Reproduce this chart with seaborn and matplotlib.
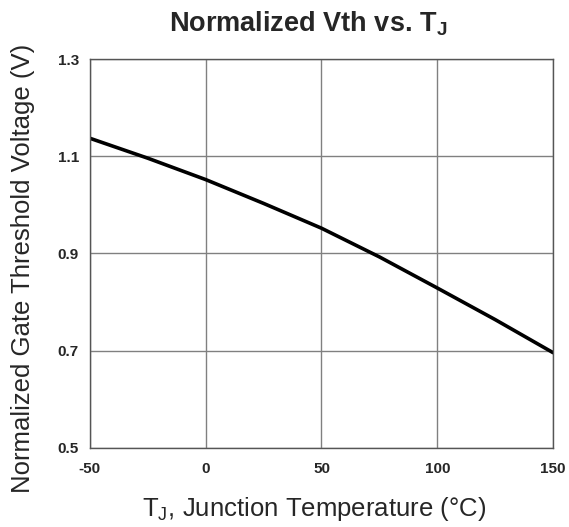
import numpy as np
import matplotlib.pyplot as plt
import seaborn as sns
import pandas as pd

# values
temps = [-50, -25, 0, 25, 50, 75, 100, 125, 150]
vth_norm = [1.137, 1.096, 1.052, 1.003, 0.952, 0.893, 0.829, 0.764, 0.696]
x_ticks = [-50, 0, 50, 100, 150]
y_ticks = [0.5, 0.7, 0.9, 1.1, 1.3]

sns.set_style("white")
plt.rcParams['font.family'] = ['Liberation Sans', 'DejaVu Sans']
plt.rcParams['mathtext.fontset'] = 'custom'
plt.rcParams['mathtext.rm'] = 'Liberation Sans'
plt.rcParams['mathtext.bf'] = 'Liberation Sans:bold'

df = pd.DataFrame({'T': temps, 'V': vth_norm})

fig = plt.figure(figsize=(5.69, 5.27), dpi=100)
ax = fig.add_axes([0.158, 0.150, 0.814, 0.738])

sns.lineplot(data=df, x='T', y='V', color='black', linewidth=2.6, ax=ax)

ax.set_xlim(-50, 150)
ax.set_ylim(0.5, 1.3)
ax.set_xticks(x_ticks)
ax.set_yticks(y_ticks)
ax.set_xticklabels([str(t) for t in x_ticks], fontsize=11, fontweight='bold')
ax.set_yticklabels([f'{t:.1f}' for t in y_ticks], fontsize=11, fontweight='bold')
ax.tick_params(axis='x', length=0, pad=10)
ax.tick_params(axis='y', length=0, pad=8)

# grid lines
ax.grid(True, color='#808080', linewidth=1)
for s in ax.spines.values():
    s.set_color('#555555')
    s.set_linewidth(1)

ax.set_xlabel(r'T$_\mathregular{J}$, Junction Temperature (°C)', fontsize=18.5, labelpad=14)
ax.xaxis.set_label_coords(0.483, -0.122)
ax.set_ylabel('Normalized Gate Threshold Voltage (V)', fontsize=18.5, labelpad=16)
ax.yaxis.label.set_y(0.461)
ax.set_title(r'Normalized Vth vs. T$_\mathbf{J}$', fontsize=19.5, fontweight='bold', pad=20, x=0.472)

plt.savefig('out.png', dpi=100)
